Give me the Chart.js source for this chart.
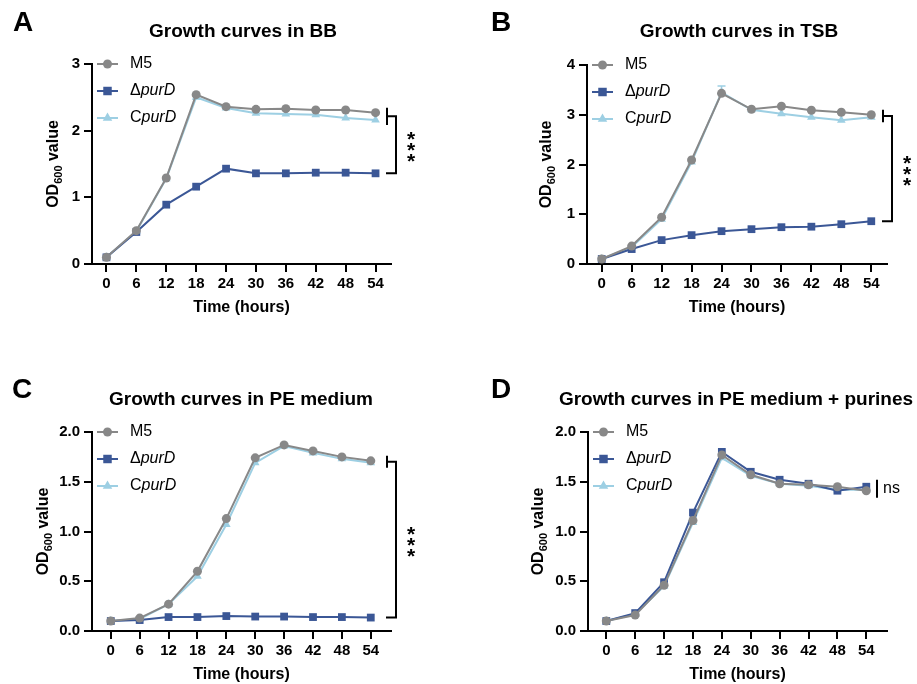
<!DOCTYPE html>
<html>
<head>
<meta charset="utf-8">
<script src="https://cdn.jsdelivr.net/npm/chart.js@4.4.1/dist/chart.umd.min.js"></script>
<style>
  body { margin: 0; background: #fff; width: 917px; height: 684px; position: relative; overflow: hidden; }
  canvas { position: absolute; }
</style>
</head>
<body>
<canvas id="chartA" width="459" height="342" style="left:0;top:0"></canvas>
<canvas id="chartB" width="458" height="342" style="left:459px;top:0"></canvas>
<canvas id="chartC" width="459" height="342" style="left:0;top:342px"></canvas>
<canvas id="chartD" width="458" height="342" style="left:459px;top:342px"></canvas>
<script>
// time points (hours)
const hours = [0, 6, 12, 18, 24, 30, 36, 42, 48, 54];

// BB
const bbM5 = [0.10, 0.50, 1.29, 2.54, 2.36, 2.32, 2.33, 2.31, 2.31, 2.27];
const bbPurD = [0.10, 0.48, 0.89, 1.16, 1.43, 1.36, 1.36, 1.37, 1.37, 1.36];
const bbCpurD = [0.10, 0.49, 1.28, 2.50, 2.34, 2.26, 2.25, 2.24, 2.19, 2.16];

// TSB
const tsbM5 = [0.10, 0.36, 0.94, 2.09, 3.43, 3.11, 3.17, 3.09, 3.05, 3.00];
const tsbPurD = [0.10, 0.30, 0.48, 0.58, 0.66, 0.70, 0.74, 0.75, 0.80, 0.86];
const tsbCpurD = [0.10, 0.34, 0.90, 2.05, 3.45, 3.10, 3.02, 2.95, 2.89, 2.95];
const tsbCpurDErr = [0, 0, 0, 0, 0.13, 0, 0, 0, 0, 0];

// PE medium
const peM5 = [0.10, 0.13, 0.27, 0.60, 1.13, 1.74, 1.87, 1.81, 1.75, 1.71];
const pePurD = [0.10, 0.11, 0.14, 0.14, 0.15, 0.145, 0.145, 0.14, 0.14, 0.135];
const peCpurD = [0.10, 0.12, 0.27, 0.55, 1.07, 1.69, 1.86, 1.79, 1.73, 1.69];

// PE medium + purines
const pepM5 = [0.10, 0.16, 0.46, 1.11, 1.77, 1.57, 1.48, 1.47, 1.45, 1.41];
const pepPurD = [0.10, 0.18, 0.49, 1.19, 1.80, 1.60, 1.52, 1.48, 1.41, 1.45];
const pepCpurD = [0.10, 0.17, 0.45, 1.09, 1.74, 1.56, 1.48, 1.46, 1.42, 1.42];

// y tick labels
const bbTicks = [0, 1, 2, 3];
const tsbTicks = [0, 1, 2, 3, 4];
const peTicks = [0, 0.5, 1.0, 1.5, 2.0];

const FONT = '"Liberation Sans", Arial, Helvetica, sans-serif';
const colors = { m5: '#888888', purD: '#3B5796', cpurD: '#9DCFE3' };
const styles = [
  { key: 'm5', pointStyle: 'circle', radius: 4.5, legendRadius: 4.5, pre: 'M5', ital: '' },
  { key: 'purD', pointStyle: 'rect', radius: 5.5, legendRadius: 6, pre: 'Δ', ital: 'purD' },
  { key: 'cpurD', pointStyle: 'triangle', radius: 5, legendRadius: 5.5, pre: 'C', ital: 'purD' }
];

function toPoints(vals) {
  return hours.map((h, i) => ({ x: h, y: vals[i] }));
}

// draws panel letter, title, axis titles, legend, brackets
const decoPlugin = {
  id: 'deco',
  beforeDatasetsDraw(chart, args, o) {
    const ctx = chart.ctx;
    const y = chart.scales.y, x = chart.scales.x;
    (o.errors || []).forEach(e => {
      const ds = chart.data.datasets[e.ds];
      ctx.save();
      ctx.strokeStyle = ds.borderColor;
      ctx.lineWidth = 1.5;
      e.err.forEach((err, i) => {
        if (!err) return;
        const px = x.getPixelForValue(hours[i]);
        const p0 = y.getPixelForValue(e.vals[i]);
        const p1 = y.getPixelForValue(e.vals[i] + err);
        ctx.beginPath();
        ctx.moveTo(px, p0); ctx.lineTo(px, p1);
        ctx.moveTo(px - 4, p1); ctx.lineTo(px + 4, p1);
        ctx.stroke();
      });
      ctx.restore();
    });
  },
  afterDraw(chart, args, o) {
    const ctx = chart.ctx;
    const a = chart.chartArea;
    const y = chart.scales.y;
    ctx.save();
    ctx.fillStyle = '#000';
    ctx.textAlign = 'center';
    ctx.textBaseline = 'middle';

    // letter + title
    ctx.font = 'bold 28px ' + FONT;
    ctx.fillText(o.letter, o.letterX, o.letterY);
    ctx.font = 'bold 19px ' + FONT;
    ctx.fillText(o.title, o.titleX, o.titleY);

    // x title
    ctx.font = 'bold 16px ' + FONT;
    ctx.fillText('Time (hours)', (a.left + a.right) / 2, a.bottom + 44);

    // y title with subscript
    ctx.save();
    ctx.translate(a.left + o.yTitleDx, (a.top + a.bottom) / 2);
    ctx.rotate(-Math.PI / 2);
    ctx.textAlign = 'left';
    ctx.textBaseline = 'alphabetic';
    const f1 = 'bold 16px ' + FONT, f2 = 'bold 11px ' + FONT;
    ctx.font = f1; const w1 = ctx.measureText('OD').width; const w3 = ctx.measureText(' value').width;
    ctx.font = f2; const w2 = ctx.measureText('600').width;
    let sx = -(w1 + w2 + w3) / 2;
    const by = 6;
    ctx.font = f1; ctx.fillText('OD', sx, by); sx += w1;
    ctx.font = f2; ctx.fillText('600', sx, by + 4); sx += w2;
    ctx.font = f1; ctx.fillText(' value', sx, by);
    ctx.restore();

    // legend
    styles.forEach((s, i) => {
      const ly = a.top + i * 27;
      ctx.strokeStyle = colors[s.key];
      ctx.lineWidth = 2;
      ctx.beginPath();
      ctx.moveTo(a.left + 5, ly); ctx.lineTo(a.left + 26, ly);
      ctx.stroke();
      ctx.fillStyle = colors[s.key];
      Chart.helpers.drawPoint(ctx, { pointStyle: s.pointStyle, radius: s.legendRadius, rotation: 0, borderWidth: 0 }, a.left + 15.5, ly);
      ctx.fillStyle = '#000';
      ctx.textAlign = 'left';
      ctx.textBaseline = 'middle';
      let tx = a.left + 38;
      ctx.font = '16px ' + FONT;
      ctx.fillText(s.pre, tx, ly);
      tx += ctx.measureText(s.pre).width;
      if (s.ital) {
        ctx.font = 'italic 16px ' + FONT;
        ctx.fillText(s.ital, tx, ly);
      }
    });

    // significance bracket
    const br = o.bracket;
    ctx.strokeStyle = '#000';
    ctx.lineWidth = 2;
    if (br.text === 'ns') {
      const vals = br.topVals;
      const yc = (y.getPixelForValue(Math.max(...vals)) + y.getPixelForValue(Math.min(...vals))) / 2;
      ctx.beginPath();
      ctx.moveTo(a.right - 10, yc - 9); ctx.lineTo(a.right - 10, yc + 9);
      ctx.stroke();
      ctx.font = '16px ' + FONT;
      ctx.textAlign = 'left';
      ctx.textBaseline = 'middle';
      ctx.fillText('ns', a.right - 4, yc);
    } else {
      const y1 = y.getPixelForValue(Math.max(...br.topVals));
      const y2 = y.getPixelForValue(Math.min(...br.topVals));
      const ym = (y1 + y2) / 2;
      const yb = y.getPixelForValue(br.bottomVal);
      const xs = a.right - 4, xv = a.right + 5;
      ctx.beginPath();
      ctx.moveTo(xs, y1 - 5); ctx.lineTo(xs, y2 + 5);
      ctx.moveTo(xs, ym); ctx.lineTo(xv, ym);
      ctx.lineTo(xv, yb); ctx.lineTo(xs - 1, yb);
      ctx.stroke();
      ctx.font = 'bold 21px ' + FONT;
      ctx.textAlign = 'center';
      ctx.textBaseline = 'alphabetic';
      const cy = (ym + yb) / 2;
      for (let k = -1; k <= 1; k++) {
        ctx.fillText('*', a.right + 20, cy + k * 11 + 0.58 * 21);
      }
    }
    ctx.restore();
  }
};

function makeChart(id, series, yTicks, yMax, xMin, xMax, area, deco) {
  const canvas = document.getElementById(id);
  const W = canvas.width, H = canvas.height;
  const datasets = styles.map((s, i) => ({
    label: s.pre + s.ital,
    data: toPoints(series[i]),
    borderColor: colors[s.key],
    backgroundColor: colors[s.key],
    borderWidth: 2,
    pointStyle: s.pointStyle,
    pointRadius: s.radius,
    pointBorderWidth: 0,
    pointHoverRadius: s.radius,
    tension: 0,
    clip: false
  }));
  const tickFont = { family: FONT, size: 15, weight: 'bold' };
  const axisGrid = { display: true, drawOnChartArea: false, drawTicks: true, tickLength: 8, lineWidth: 2, color: '#000' };
  return new Chart(canvas.getContext('2d'), {
    type: 'line',
    data: { datasets },
    options: {
      responsive: false,
      animation: false,
      events: [],
      layout: { padding: { left: area.l - 60, top: area.t, right: W - area.r, bottom: H - area.b - 50 } },
      plugins: { legend: { display: false }, tooltip: { enabled: false }, deco },
      scales: {
        x: {
          type: 'linear',
          min: xMin, max: xMax,
          grid: axisGrid,
          border: { color: '#000', width: 2 },
          afterBuildTicks: sc => { sc.ticks = hours.map(v => ({ value: v })); },
          afterFit: sc => { sc.height = 50; },
          ticks: { font: tickFont, color: '#000', autoSkip: false, maxRotation: 0, padding: 3 }
        },
        y: {
          type: 'linear',
          min: 0, max: yMax,
          grid: axisGrid,
          border: { color: '#000', width: 2 },
          afterBuildTicks: sc => { sc.ticks = yTicks.map(v => ({ value: v })); },
          afterFit: sc => { sc.width = 60; },
          ticks: {
            font: tickFont, color: '#000', padding: 4,
            callback: v => (yMax === 2 ? v.toFixed(1) : String(v))
          }
        }
      }
    },
    plugins: [decoPlugin]
  });
}

makeChart('chartA', [bbM5, bbPurD, bbCpurD], bbTicks, 3, -2.9, 57.1,
  { l: 92, t: 64, r: 391, b: 264 },
  { letter: 'A', letterX: 23, letterY: 23, title: 'Growth curves in BB', titleX: 243, titleY: 32, yTitleDx: -40,
    bracket: { topVals: [bbM5[9], bbCpurD[9]], bottomVal: bbPurD[9], text: '***' } });

makeChart('chartB', [tsbM5, tsbPurD, tsbCpurD], tsbTicks, 4, -2.95, 57.15,
  { l: 128, t: 65, r: 428, b: 264 },
  { letter: 'B', letterX: 42, letterY: 23, title: 'Growth curves in TSB', titleX: 280, titleY: 32, yTitleDx: -42,
    bracket: { topVals: [tsbM5[9], tsbCpurD[9]], bottomVal: tsbPurD[9], text: '***' },
    errors: [{ ds: 2, vals: tsbCpurD, err: tsbCpurDErr }] });

makeChart('chartC', [peM5, pePurD, peCpurD], peTicks, 2, -3.9, 58.2,
  { l: 92, t: 90, r: 391, b: 289 },
  { letter: 'C', letterX: 22, letterY: 48, title: 'Growth curves in PE medium', titleX: 241, titleY: 58, yTitleDx: -50,
    bracket: { topVals: [peM5[9], peCpurD[9]], bottomVal: pePurD[9], text: '***' } });

makeChart('chartD', [pepM5, pepPurD, pepCpurD], peTicks, 2, -3.8, 58.3,
  { l: 129, t: 90, r: 428, b: 289 },
  { letter: 'D', letterX: 42, letterY: 48, title: 'Growth curves in PE medium + purines', titleX: 277, titleY: 58, yTitleDx: -51,
    bracket: { topVals: [pepM5[9], pepPurD[9], pepCpurD[9]], text: 'ns' } });
</script>
</body>
</html>
